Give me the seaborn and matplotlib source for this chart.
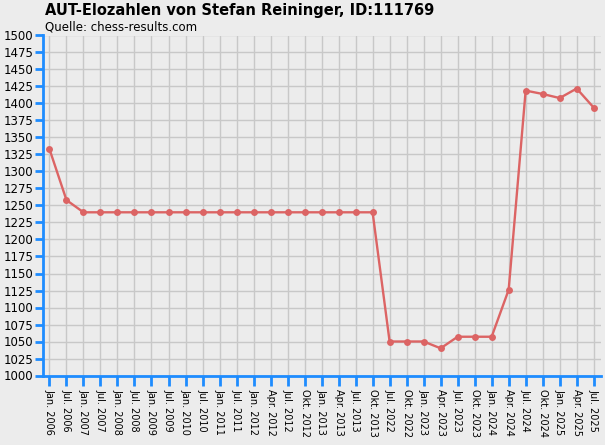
import pandas as pd
import matplotlib
matplotlib.use("Agg")
import matplotlib.pyplot as plt
import seaborn as sns

perioden = ["Jan. 2006", "Jul. 2006", "Jan. 2007", "Jul. 2007", "Jan. 2008", "Jul. 2008",
            "Jan. 2009", "Jul. 2009", "Jan. 2010", "Jul. 2010", "Jan. 2011", "Jul. 2011",
            "Jan. 2012", "Apr. 2012", "Jul. 2012", "Okt. 2012", "Jan. 2013", "Apr. 2013",
            "Jul. 2013", "Okt. 2013", "Jul. 2022", "Okt. 2022", "Jan. 2023", "Apr. 2023",
            "Jul. 2023", "Okt. 2023", "Jan. 2024", "Apr. 2024", "Jul. 2024", "Okt. 2024",
            "Jan. 2025", "Apr. 2025", "Jul. 2025"]
elo = [1333, 1258, 1240, 1240, 1240, 1240,
       1240, 1240, 1240, 1240, 1240, 1240,
       1240, 1240, 1240, 1240, 1240, 1240,
       1240, 1240, 1050, 1050, 1050, 1040,
       1057, 1057, 1057, 1126, 1419, 1414,
       1408, 1422, 1394]
y_ticks = list(range(1000, 1501, 25))

df = pd.DataFrame({"periode": perioden, "elo": elo})

sns.set_style("whitegrid")
plt.rcParams['font.family'] = ['DejaVu Sans']
plt.rcParams['text.color'] = 'black'

bg = '#ececec'
blau = '#1e8cff'
fig = plt.figure(figsize=(6.05, 4.45), dpi=100, facecolor=bg)
ax = fig.add_axes([43.5 / 605, 1 - 375.5 / 445, (600.5 - 43.5) / 605, (375.5 - 35.5) / 445])
ax.set_facecolor(bg)

# Elo-Verlauf mit Punkten
sns.lineplot(data=df, x="periode", y="elo", sort=False, ax=ax, color='#dc6464',
             linewidth=1.7, marker='o', markersize=5, markeredgewidth=0)

ax.set_ylim(1000, 1500)
ax.set_xlim(-0.35, 32.4)
ax.set_yticks(y_ticks)
ax.set_xticks(range(len(perioden)))
ax.set_xticklabels(perioden, rotation=270, fontsize=7)
ax.tick_params(axis='y', labelsize=8.5, length=6, width=2, color=blau, pad=1,
               direction='out', left=True, labelcolor='black')
ax.tick_params(axis='x', length=7, width=2, color=blau, pad=3,
               direction='out', bottom=True, labelcolor='black')
ax.grid(True, color='#c8c8c8', linewidth=1)
for s in ['top', 'right']:
    ax.spines[s].set_visible(False)
for s in ['left', 'bottom']:
    ax.spines[s].set_color(blau)
    ax.spines[s].set_linewidth(2)
ax.set_xlabel("")
ax.set_ylabel("")

fig.text(45 / 605, 1 - 11 / 445, "AUT-Elozahlen von Stefan Reininger, ID:111769",
         fontsize=10.5, fontweight='bold', va='center', ha='left', color='black')
fig.text(45 / 605, 1 - 27 / 445, "Quelle: chess-results.com", fontsize=8.5,
         va='center', ha='left', color='black')

fig.savefig("out.png", dpi=100, facecolor=bg)
